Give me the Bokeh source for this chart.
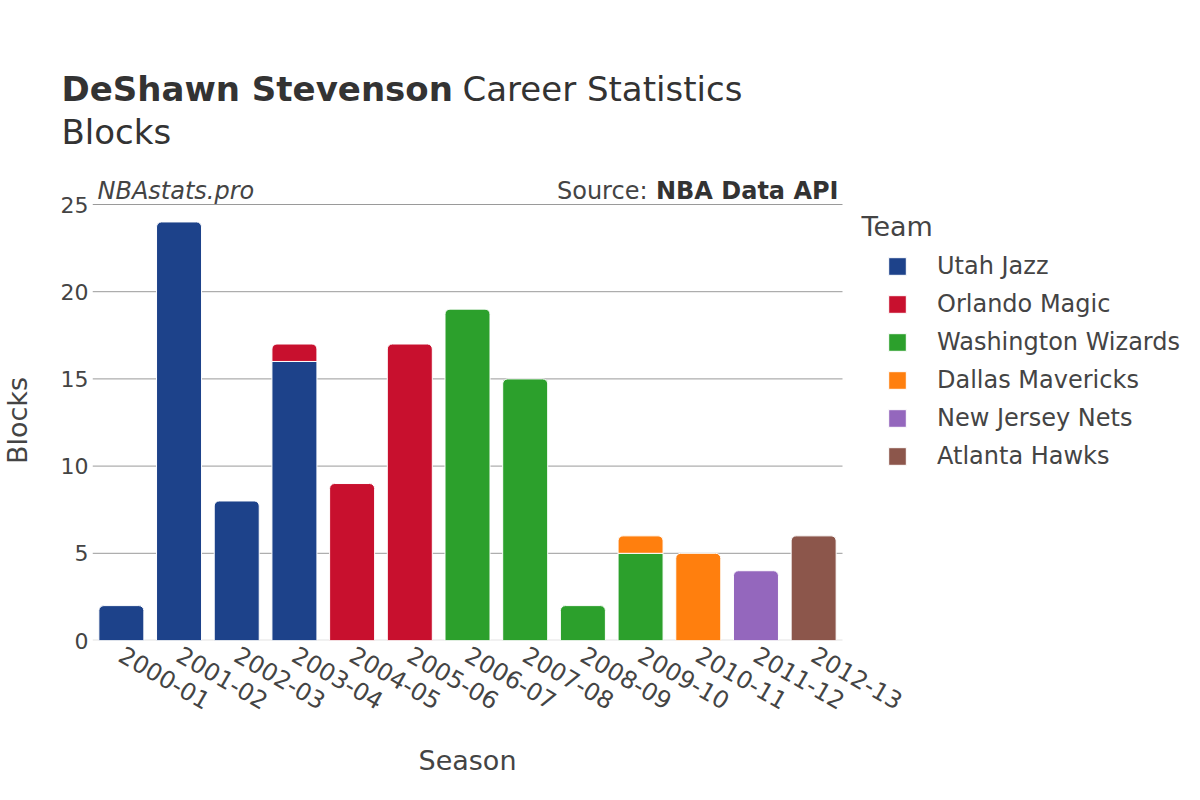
import math
from bokeh.plotting import figure
from bokeh.layouts import column, row
from bokeh.models import (ColumnDataSource, Range1d, FixedTicker, Legend, LegendItem, Label)
from bokeh.embed import file_html
from bokeh.resources import INLINE

seasons = ["2000-01", "2001-02", "2002-03", "2003-04", "2004-05", "2005-06", "2006-07",
           "2007-08", "2008-09", "2009-10", "2010-11", "2011-12", "2012-13"]
teams = ["Utah Jazz", "Orlando Magic", "Washington Wizards", "Dallas Mavericks",
         "New Jersey Nets", "Atlanta Hawks"]
team_colors = ["#1D428A", "#C8102E", "#2CA02C", "#FF7F0E", "#9467BD", "#8C564B"]
utah_jazz = [2, 24, 8, 16, 0, 0, 0, 0, 0, 0, 0, 0, 0]
orlando_magic = [0, 0, 0, 1, 9, 17, 0, 0, 0, 0, 0, 0, 0]
washington_wizards = [0, 0, 0, 0, 0, 0, 19, 15, 2, 5, 0, 0, 0]
dallas_mavericks = [0, 0, 0, 0, 0, 0, 0, 0, 0, 1, 5, 0, 0]
new_jersey_nets = [0, 0, 0, 0, 0, 0, 0, 0, 0, 0, 0, 4, 0]
atlanta_hawks = [0, 0, 0, 0, 0, 0, 0, 0, 0, 0, 0, 0, 6]
y_ticks = [0, 5, 10, 15, 20, 25]

series = [utah_jazz, orlando_magic, washington_wizards, dallas_mavericks,
          new_jersey_nets, atlanta_hawks]

FONT = "DejaVu Sans"
TXT = "#444444"
DARK = "#333333"
MID = 0.346  # em offset between text middle and alphabetic baseline (DejaVu)


def blank(w, h):
    f = figure(width=w, height=h, x_range=Range1d(0, 1), y_range=Range1d(0, 1),
               output_backend="svg", toolbar_location=None,
               x_axis_location=None, y_axis_location=None,
               min_border=0, min_border_left=0, min_border_right=0,
               min_border_top=0, min_border_bottom=0)
    f.outline_line_color = None
    f.grid.visible = False
    f.frame_align = False
    return f


def lab(fig, text, x, y_base, size_px, style="normal", align="left", color=TXT, angle=0):
    # y_base: distance of the text baseline above the frame bottom (px)
    fig.add_layout(Label(x=x, y=y_base + MID * size_px, x_units="screen", y_units="screen",
                         text=text, angle=angle, text_font=FONT,
                         text_font_size=f"{size_px}px", text_font_style=style,
                         text_color=color, text_align=align, text_baseline="middle"))


# ---------------- header (title) ----------------
head = blank(1200, 160)
lab(head, "DeShawn Stevenson", 61, 60, 34, "bold", color=DARK)
lab(head, "Career Statistics", 462, 60, 34, color=DARK)
lab(head, "Blocks", 61, 17, 34, color=DARK)

# ---------------- y-axis title strip ----------------
ylab = blank(40, 570)
ylab.add_layout(Label(x=17, y=310, x_units="screen", y_units="screen", text="Blocks",
                      angle=math.pi / 2, text_font=FONT, text_font_size="27px",
                      text_color=TXT, text_align="center", text_baseline="middle"))

# ---------------- x-axis title strip ----------------
foot = blank(1200, 70)
lab(foot, "Season", 467, 31, 27, align="center")

# ---------------- main chart ----------------
n = len(seasons)
slot_px = 750 / n                     # width of one season slot in px
frame_w, frame_h = 1200 - 92, 480
x_end = frame_w / slot_px
y_top = y_ticks[-1] * frame_h / 436

p = figure(width=1160, height=570, x_range=Range1d(0, x_end), y_range=Range1d(0, y_top),
           output_backend="svg", toolbar_location=None,
           min_border_left=52, min_border_right=0, min_border_top=0, min_border_bottom=90)
p.outline_line_color = None
p.xgrid.grid_line_color = None
p.ygrid.grid_line_color = None
p.frame_align = False

xs = [i + 0.5 for i in range(n)]

# grid lines (only across the season slots)
p.segment(x0=[0] * (len(y_ticks) - 1), x1=[n] * (len(y_ticks) - 1), y0=y_ticks[1:],
          y1=y_ticks[1:], line_color="#9a9a9a", line_width=1)
p.segment(x0=[0], x1=[n], y0=y_ticks[:1], y1=y_ticks[:1], line_color="#e3e3e3", line_width=2)

# stacked bars: only the topmost segment of each season gets rounded top corners
totals = [sum(s[i] for s in series) for i in range(n)]
bottoms = [0] * n
legend_items = []
for team, color, vals in zip(teams, team_colors, series):
    top_d = dict(x=[], b=[], t=[])
    mid_d = dict(x=[], b=[], t=[])
    for i in range(n):
        v = vals[i]
        if v > 0:
            d = top_d if bottoms[i] + v == totals[i] else mid_d
            d["x"].append(xs[i]); d["b"].append(bottoms[i]); d["t"].append(bottoms[i] + v)
            bottoms[i] += v
    rs = []
    if top_d["x"]:
        rs.append(p.vbar(x="x", bottom="b", top="t", width=0.78, source=ColumnDataSource(top_d),
                         fill_color=color, line_color="white", line_width=1,
                         border_radius=(5, 5, 0, 0)))
    if mid_d["x"]:
        rs.append(p.vbar(x="x", bottom="b", top="t", width=0.78, source=ColumnDataSource(mid_d),
                         fill_color=color, line_color="white", line_width=1))
    legend_items.append(LegendItem(label=team, renderers=rs[:1]))

# axes
p.xaxis.ticker = FixedTicker(ticks=xs)
p.xaxis.major_label_overrides = {x: s for x, s in zip(xs, seasons)}
p.yaxis.ticker = FixedTicker(ticks=y_ticks)
for ax in (p.xaxis[0], p.yaxis[0]):
    ax.axis_line_color = None
    ax.major_tick_line_color = None
    ax.minor_tick_line_color = None
    ax.major_tick_out = 0
    ax.major_tick_in = 0
    ax.minor_tick_out = 0
    ax.major_label_text_font = FONT
    ax.major_label_text_color = TXT

p.yaxis.major_label_text_font_size = "22px"
p.xaxis.major_label_text_font_size = "24px"
p.xaxis.major_label_orientation = -math.pi / 6
p.yaxis.major_label_standoff = 4
p.xaxis.major_label_standoff = 12

# watermark / source / legend title (baseline px above the frame bottom)
lab(p, "NBAstats.pro", 5, 441, 24, "italic")
lab(p, "NBA Data API", 746, 441, 24, "bold", "right", color=DARK)
lab(p, "Source:", 555, 441, 24, "normal", "right")
lab(p, "Team", 769, 405, 27)

legend = Legend(items=legend_items, location=(794, 170), margin=0, padding=0,
                label_text_font=FONT, label_text_font_size="24px", label_text_color=TXT,
                glyph_width=22, glyph_height=22, label_standoff=29, spacing=10,
                label_height=22, border_line_color=None, background_fill_alpha=0)
p.add_layout(legend)

layout = column(head, row(ylab, p, spacing=0), foot, spacing=0)
open("out.html", "w").write(file_html(layout, INLINE))
